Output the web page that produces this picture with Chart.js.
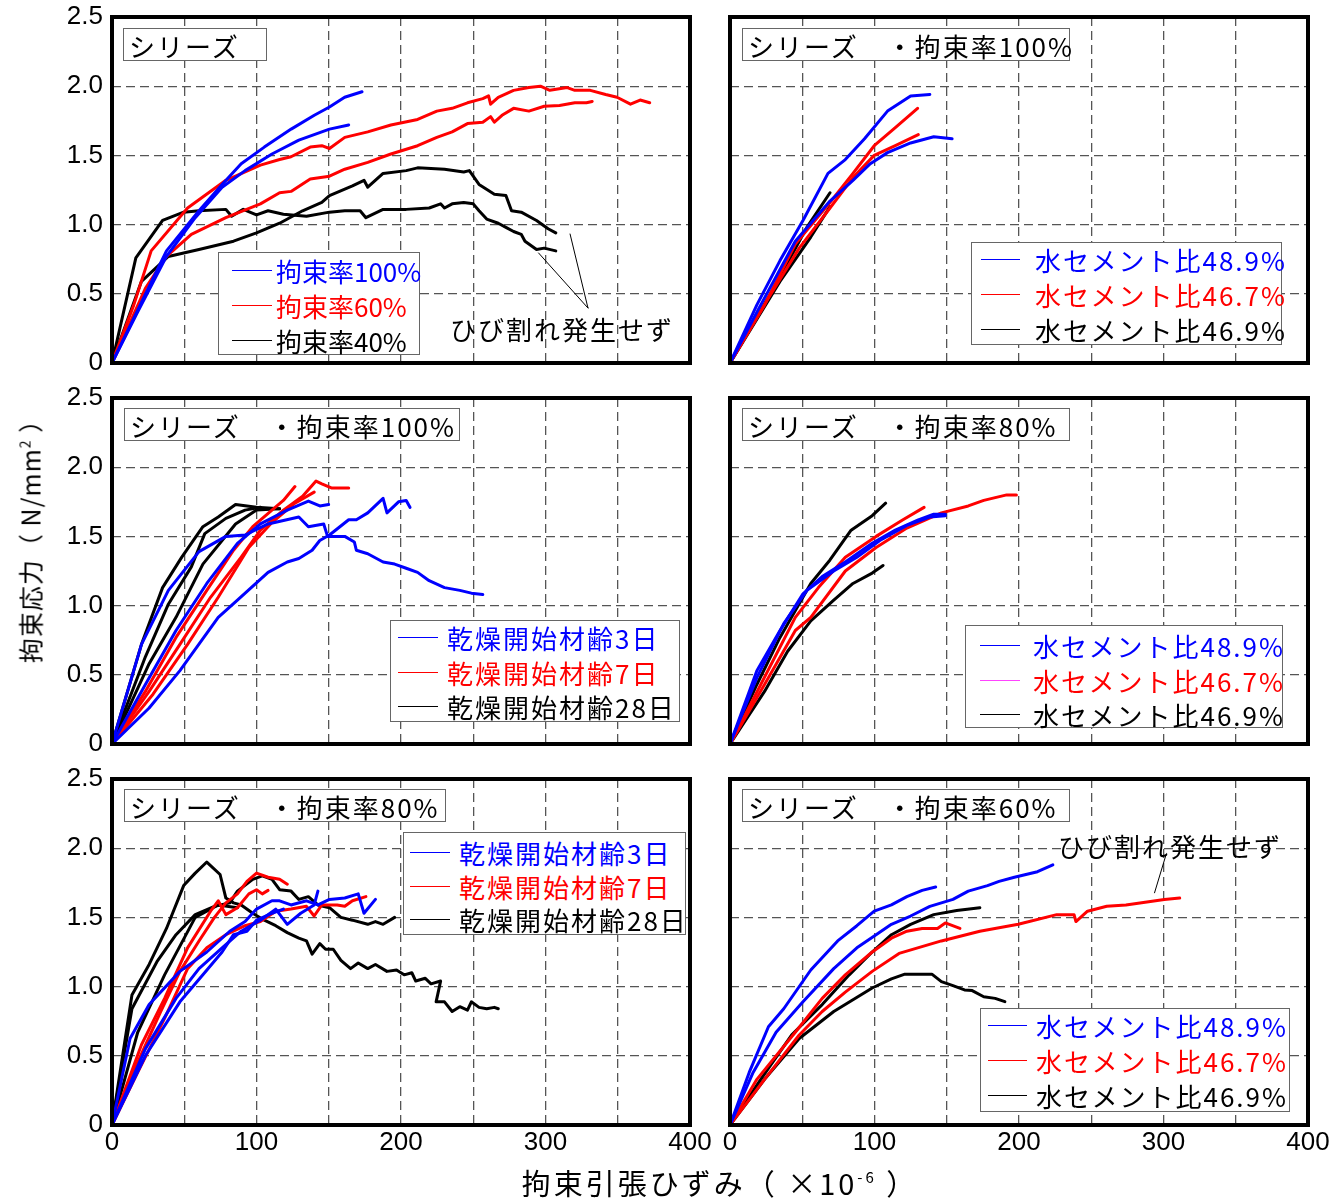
<!DOCTYPE html>
<html lang="ja">
<head>
<meta charset="UTF-8">
<title>拘束応力と拘束引張ひずみ</title>
<style>
    body {
        margin: 0;
        width: 1334px;
        height: 1199px;
        position: relative;
        overflow: hidden;
        background: #fff;
        font-family: "Noto Sans CJK JP", sans-serif;
    }
    canvas { position: absolute; }
    .box { position: absolute; background: #fff; border: 1.5px solid #666; box-sizing: border-box; }
    .txt { position: absolute; white-space: nowrap; line-height: 1; transform: translateY(-50%); font-size: 26px; }
    .swatch { position: absolute; height: 0; border-top: 1.5px solid; }
</style>
</head>
<body>

<script src="https://cdnjs.cloudflare.com/ajax/libs/Chart.js/4.4.1/chart.umd.min.js"></script>
<script>
    const BLUE = '#0000ff', RED = '#ff0000', BLACK = '#000000';

    // tick labels
    const xTickLabels = ['0', '100', '200', '300', '400'];
    const yTickLabels = ['0', '0.5', '1.0', '1.5', '2.0', '2.5'];

    // legend / title texts
    const legendRate = ['拘束率100%', '拘束率60%', '拘束率40%'];
    const legendWC = ['水セメント比48.9%', '水セメント比46.7%', '水セメント比46.9%'];
    const legendAge = ['乾燥開始材齢3日', '乾燥開始材齢7日', '乾燥開始材齢28日'];
    const panelTitles = ['シリーズ', 'シリーズ　・拘束率100%', 'シリーズ　・拘束率100%',
                         'シリーズ　・拘束率80%', 'シリーズ　・拘束率80%', 'シリーズ　・拘束率60%'];
    const noteText = 'ひび割れ発生せず';

    // top left : strain (x10^-6), stress (N/mm2)
    const tlBlue1 = [[0,0],[37.7,0.81],[60.2,1.10],[76.2,1.29],[89.4,1.44],[105.4,1.56],[124,1.69],[140,1.79],[150.5,1.85],[161,1.92],[173,1.96]];
    const tlBlue2 = [[0,0],[17.8,0.37],[37.7,0.77],[57.6,1.05],[76.2,1.27],[92.1,1.39],[110.7,1.51],[129.3,1.61],[150.5,1.69],[163.8,1.72]];
    const tlRed1 = [[0,0],[15.1,0.42],[27.1,0.81],[52.3,1.12],[78.8,1.32],[102.7,1.43],[116,1.47],[123.9,1.49],[137.2,1.56],[145.2,1.57],[150.5,1.55],[161.1,1.63],[177,1.67],[193,1.72],[211.5,1.76],[224.8,1.82],[235.4,1.84],[246,1.88],[256.6,1.91],[260.6,1.93],[262,1.87],[267.3,1.92],[277.9,1.97],[288.5,1.99],[296.5,2.0],[303,1.97],[315,1.99],[320.3,1.97],[331,1.97],[341.6,1.94],[349.5,1.92],[358.8,1.87],[365.5,1.90],[372.1,1.88]];
    const tlRed2 = [[0,0],[23.1,0.54],[37.7,0.77],[54.9,0.93],[78.8,1.05],[102.7,1.15],[116,1.23],[123.9,1.24],[137.2,1.33],[150.5,1.35],[161.1,1.40],[177,1.45],[193,1.51],[211.5,1.57],[224.8,1.63],[235.4,1.67],[246,1.73],[256.6,1.74],[262,1.78],[264.6,1.74],[269.9,1.79],[277.9,1.84],[288.5,1.82],[299.1,1.855],[309.7,1.86],[320.3,1.88],[328.3,1.88],[332.3,1.89]];
    const tlBlack1 = [[0,0],[16.5,0.76],[35,1.03],[49.6,1.09],[60.2,1.10],[78.8,1.11],[82.8,1.06],[90.8,1.11],[100,1.07],[108,1.10],[118.6,1.075],[134.6,1.06],[150.5,1.09],[161.1,1.10],[171.7,1.10],[175.7,1.05],[187.6,1.11],[203.6,1.11],[219.5,1.12],[227.4,1.15],[230.1,1.12],[235.4,1.15],[243.4,1.16],[250,1.15],[254,1.10],[259.3,1.04],[267.3,1.01],[272.6,0.98],[277.9,0.95],[283.2,0.93],[285.8,0.88],[293.8,0.82],[299.1,0.83],[307.1,0.81]];
    const tlBlack2 = [[0,0],[20.4,0.59],[39,0.77],[60.2,0.82],[84.1,0.88],[100,0.94],[116,1.01],[131.9,1.10],[145.2,1.16],[150.5,1.21],[166.4,1.28],[174.4,1.32],[177,1.27],[187.6,1.37],[203.6,1.39],[211.5,1.41],[230.1,1.40],[243.4,1.38],[247.3,1.39],[254,1.29],[264.6,1.22],[272.6,1.21],[276.5,1.10],[283.2,1.09],[293.8,1.03],[301.8,0.97],[307.1,0.94]];
    const tlNote1 = [[329.4,0.397],[295.2,0.795]];
    const tlNote2 = [[329.4,0.397],[317,0.932]];

    // top right
    const trBlue1 = [[0,0],[18.6,0.42],[34.6,0.74],[50.5,1.03],[67.8,1.37],[79.8,1.47],[93.1,1.62],[109,1.82],[125,1.93],[138.3,1.94]];
    const trBlue2 = [[0,0],[21.3,0.42],[45.2,0.88],[69.2,1.17],[85.1,1.32],[97.1,1.44],[109,1.52],[125,1.59],[141,1.635],[153.7,1.62]];
    const trRed1 = [[0,0],[23.9,0.42],[45.2,0.86],[69.2,1.16],[85.1,1.37],[99.8,1.57],[114.4,1.70],[129.8,1.84]];
    const trRed2 = [[0,0],[26.6,0.47],[47.9,0.83],[69.2,1.12],[85.1,1.34],[99.8,1.50],[114.4,1.57],[130.3,1.65]];
    const trBlack1 = [[0,0],[31.9,0.57],[53.2,0.98],[69.2,1.23]];
    const trBlack2 = [[0,0],[34.6,0.59],[55.9,0.91],[69.2,1.13]];

    // middle left
    const mlBlue1 = [[0,0],[20.4,0.72],[39,1.11],[60.2,1.39],[78.8,1.50],[92.1,1.51],[108,1.59],[129.3,1.64],[135.9,1.57],[146.5,1.59],[149.2,1.50],[161.1,1.50],[167.7,1.46],[169.1,1.40],[177,1.375],[187.6,1.315],[195.6,1.30],[203.6,1.27],[211.5,1.24],[219.5,1.18],[230.1,1.13],[240.7,1.11],[248.7,1.09],[256.6,1.08]];
    const mlBlue2 = [[0,0],[23.1,0.43],[44.3,0.82],[65.6,1.16],[86.8,1.45],[102.7,1.59],[121.3,1.69],[135.9,1.755],[143.8,1.72],[149.9,1.73]];
    const mlBlue3 = [[0,0],[25.7,0.26],[47,0.53],[73.5,0.915],[86.8,1.04],[108,1.24],[121.3,1.315],[129.3,1.34],[138.5,1.40],[143.8,1.47],[150.5,1.51],[163.8,1.62],[169.1,1.62],[177,1.67],[187.6,1.775],[190.3,1.67],[198.3,1.75],[203.6,1.76],[206.2,1.71]];
    const mlRed1 = [[0,0],[23.1,0.38],[44.3,0.77],[65.6,1.11],[84.1,1.40],[97.4,1.57],[110.7,1.69],[118.6,1.76],[126.6,1.86]];
    const mlRed2 = [[0,0],[25.7,0.38],[47,0.72],[68.2,1.06],[89.4,1.35],[102.7,1.545],[118.6,1.69],[131.9,1.79],[141.2,1.90],[145.2,1.88],[151.8,1.85],[163.8,1.85]];
    const mlRed3 = [[0,0],[28.4,0.36],[52.3,0.72],[73.5,1.06],[94.7,1.42],[110.7,1.60],[126.6,1.74],[139.9,1.82]];
    const mlBlack1 = [[0,0],[20.4,0.72],[35,1.13],[48.3,1.35],[62.9,1.57],[73.5,1.64],[85.5,1.73],[100,1.71],[116,1.70]];
    const mlBlack2 = [[0,0],[25.7,0.58],[44.3,0.915],[62.9,1.30],[85.5,1.59],[100,1.69],[116,1.70]];
    const mlBlack3 = [[0,0],[23.1,0.63],[39,1.01],[54.9,1.28],[64.2,1.52],[78.8,1.63],[92.1,1.69],[102.7,1.71]];

    // middle right
    const mrBlue1 = [[0,0],[18.6,0.53],[34.6,0.82],[50.5,1.085],[63.8,1.21],[79.8,1.315],[98.4,1.45],[114.4,1.545],[130.3,1.62],[141,1.66],[149,1.66]];
    const mrBlue2 = [[0,0],[18.6,0.48],[37.2,0.87],[53.2,1.11],[71.8,1.25],[87.8,1.35],[103.7,1.47],[122.4,1.58],[138.3,1.64],[149,1.65]];
    const mrRed1 = [[0,0],[21.3,0.43],[45.2,0.915],[61.2,1.13],[79.8,1.35],[101.1,1.50],[119.7,1.62],[134.3,1.71]];
    const mrRed2 = [[0,0],[23.9,0.43],[45.2,0.82],[55.9,0.915],[79.8,1.25],[101.1,1.42],[122.4,1.56],[146.3,1.67],[164.9,1.72],[175.6,1.76],[191.5,1.80],[198.2,1.80]];
    const mrBlack1 = [[0,0],[18.6,0.43],[34.6,0.77],[55.9,1.16],[69.2,1.33],[83.8,1.545],[98.4,1.65],[107.7,1.74]];
    const mrBlack2 = [[0,0],[23.9,0.38],[39.9,0.67],[55.9,0.89],[71.8,1.04],[85.1,1.16],[98.4,1.235],[105.9,1.29]];

    // bottom left
    const blBlue1 = [[0,0],[12.5,0.625],[25.7,0.87],[47,1.11],[65.6,1.25],[81.5,1.40],[92.1,1.47],[100,1.56],[110.7,1.62],[116,1.62],[123.9,1.59],[134.6,1.62],[142.5,1.59],[150.5,1.63],[161.1,1.64],[170.4,1.67],[174.4,1.53],[182.3,1.63]];
    const blBlue2 = [[0,0],[23.1,0.55],[44.3,0.915],[60.2,1.13],[76.2,1.28],[89.4,1.40],[102.7,1.48],[113.3,1.56],[121.3,1.45],[130.6,1.53],[139.9,1.59],[142.5,1.69]];
    const blBlue3 = [[0,0],[23.1,0.50],[47,0.89],[62.9,1.085],[76.2,1.25],[84.1,1.375],[93.4,1.40],[100,1.48],[110.7,1.53],[118.6,1.56]];
    const blRed1 = [[0,0],[17.8,0.455],[33.7,0.82],[47,1.11],[60.2,1.33],[70.9,1.50],[78.8,1.605],[86.8,1.67],[93.4,1.76],[100,1.82],[108,1.79],[116,1.775],[121.3,1.74]];
    const blRed2 = [[0,0],[20.4,0.58],[36.4,0.915],[52.3,1.28],[68.2,1.545],[73.5,1.62],[78.8,1.52],[86.8,1.57],[94.7,1.67],[100,1.70],[104,1.67],[108,1.695]];
    const blRed3 = [[0,0],[17.8,0.38],[36.4,0.77],[52.3,1.13],[65.6,1.28],[78.8,1.375],[92.1,1.44],[102.7,1.47],[113.3,1.545],[123.9,1.56],[134.6,1.58],[139.9,1.51],[145.2,1.59],[155.8,1.59],[161.1,1.58],[166.4,1.62],[175.7,1.65]];
    const blBlack1 = [[0,0],[13.8,0.94],[25.7,1.16],[37.7,1.42],[49.6,1.73],[57.6,1.82],[65.6,1.90],[74.8,1.81],[78.8,1.64],[84.1,1.605],[89.4,1.59],[97.4,1.53],[105.4,1.48],[113.3,1.44],[121.3,1.39],[129.3,1.35],[134.6,1.33],[138.5,1.235],[143.8,1.31],[147.8,1.27],[153.1,1.27],[158.4,1.19],[165.1,1.13],[170.4,1.17],[177,1.13],[182.3,1.16],[190.3,1.11],[196.9,1.12],[202.2,1.085],[207.5,1.10],[210.2,1.04],[216.8,1.06],[220.8,1.02],[227.4,1.04],[224.3,0.89],[230.1,0.89],[235.4,0.82],[240.7,0.855],[246,0.83],[248.7,0.89],[254,0.85],[259.3,0.84],[264.6,0.85],[267.3,0.84]];
    const blBlack2 = [[0,0],[13.8,0.84],[31.1,1.18],[44.3,1.375],[57.6,1.52],[70.9,1.58],[81.5,1.605],[86.8,1.69],[97.4,1.775],[104,1.80],[110.7,1.775],[116,1.70],[123.9,1.69],[129.3,1.63],[135.9,1.65],[142.5,1.59],[150.5,1.57],[158.4,1.50],[166.4,1.48],[177,1.45],[182.3,1.47],[187.6,1.45],[195.6,1.50]];
    const blBlack3 = [[0,0],[17.8,0.67],[36.4,1.085],[57.6,1.50],[73.5,1.59],[86.8,1.57]];

    // bottom right
    const brBlue1 = [[0,0],[13.3,0.38],[26.6,0.71],[37.2,0.84],[55.9,1.12],[74.5,1.33],[87.8,1.44],[99.8,1.545],[111.7,1.59],[122.4,1.65],[133,1.695],[142.3,1.72]];
    const brBlue2 = [[0,0],[16,0.38],[31.9,0.67],[50.5,0.89],[71.8,1.13],[87.8,1.28],[101.1,1.375],[111.7,1.45],[125,1.51],[138.3,1.58],[154.3,1.63],[164.9,1.69],[178.2,1.73],[186.2,1.76],[196.8,1.79],[204.8,1.81],[212.8,1.83],[223.4,1.88]];
    const brRed1 = [[0,0],[18.6,0.33],[45.2,0.67],[63.8,0.915],[79.8,1.085],[98.4,1.25],[111.7,1.35],[122.4,1.40],[133,1.42],[143.6,1.42],[149,1.46],[159.1,1.42]];
    const brRed2 = [[0,0],[23.9,0.33],[47.9,0.65],[63.8,0.82],[79.8,0.96],[98.4,1.11],[117,1.24],[146.3,1.33],[172.9,1.40],[199.5,1.45],[226.1,1.52],[238.1,1.52],[239.4,1.47],[247.4,1.545],[260.7,1.58],[274,1.59],[287.3,1.61],[300.6,1.63],[311.2,1.64]];
    const brBlack1 = [[0,0],[21.3,0.33],[42.6,0.65],[63.8,0.87],[82.5,1.085],[98.4,1.25],[111.7,1.375],[125,1.45],[141,1.52],[156.9,1.55],[172.9,1.57]];
    const brBlack2 = [[0,0],[23.9,0.33],[47.9,0.625],[71.8,0.82],[98.4,0.99],[111.7,1.056],[121,1.09],[139.7,1.09],[146.3,1.036],[154.3,1.007],[162.3,0.976],[167.6,0.971],[175.6,0.927],[183.5,0.915],[190.2,0.891]];
    const brNote = [[301.7,1.951],[293.8,1.678]];

    function line(data, color, width) {
        return {
            data: data.map(p => ({x: p[0], y: p[1]})),
            showLine: true,
            borderColor: color,
            backgroundColor: color,
            borderWidth: width || 3,
            pointRadius: 0,
            tension: 0,
            borderJoinStyle: 'round',
            borderCapStyle: 'round'
        };
    }

    const framePlugin = {
        id: 'frame',
        afterDatasetsDraw(chart) {
            const a = chart.chartArea, c = chart.ctx;
            c.save();
            c.lineWidth = 4;
            c.strokeStyle = '#000';
            c.strokeRect(a.left, a.top, a.right - a.left, a.bottom - a.top);
            c.restore();
        }
    };

    const tickFont = {family: '"Liberation Sans", Arial, sans-serif', size: 26, lineHeight: 1};

    // left column canvases: 0..716, right column: 712..1334
    const panels = [
        {left: 0, top: 0, w: 716, h: 380, pad: {left: 0, right: 26, top: 17, bottom: 17}, yw: 112, xh: 0, showY: true, showX: false,
         series: [line(tlNote1, BLACK, 1), line(tlNote2, BLACK, 1),
                  line(tlBlue1, BLUE), line(tlBlue2, BLUE), line(tlRed1, RED), line(tlRed2, RED), line(tlBlack1, BLACK), line(tlBlack2, BLACK)]},
        {left: 712, top: 0, w: 622, h: 380, pad: {left: 18, right: 26, top: 17, bottom: 17}, yw: 0, xh: 0, showY: false, showX: false,
         series: [line(trBlue1, BLUE), line(trBlue2, BLUE), line(trRed1, RED), line(trRed2, RED), line(trBlack1, BLACK), line(trBlack2, BLACK)]},
        {left: 0, top: 380, w: 716, h: 380, pad: {left: 0, right: 26, top: 18, bottom: 16}, yw: 112, xh: 0, showY: true, showX: false,
         series: [line(mlBlue1, BLUE), line(mlBlue2, BLUE), line(mlBlue3, BLUE), line(mlRed1, RED), line(mlRed2, RED), line(mlRed3, RED),
                  line(mlBlack1, BLACK), line(mlBlack2, BLACK), line(mlBlack3, BLACK)]},
        {left: 712, top: 380, w: 622, h: 380, pad: {left: 18, right: 26, top: 18, bottom: 16}, yw: 0, xh: 0, showY: false, showX: false,
         series: [line(mrBlue1, BLUE), line(mrBlue2, BLUE), line(mrRed1, RED), line(mrRed2, RED), line(mrBlack1, BLACK), line(mrBlack2, BLACK)]},
        {left: 0, top: 760, w: 716, h: 420, pad: {left: 0, right: 26, top: 19, bottom: 15}, yw: 112, xh: 40, showY: true, showX: true,
         series: [line(blBlue1, BLUE), line(blBlue2, BLUE), line(blBlue3, BLUE), line(blRed1, RED), line(blRed2, RED), line(blRed3, RED),
                  line(blBlack1, BLACK), line(blBlack2, BLACK), line(blBlack3, BLACK)]},
        {left: 712, top: 760, w: 622, h: 420, pad: {left: 18, right: 26, top: 19, bottom: 15}, yw: 0, xh: 40, showY: false, showX: true,
         series: [line(brNote, BLACK, 1), line(brBlue1, BLUE), line(brBlue2, BLUE), line(brRed1, RED), line(brRed2, RED), line(brBlack1, BLACK), line(brBlack2, BLACK)]}
    ];

    for (const p of panels) {
        const cv = document.createElement('canvas');
        cv.width = p.w;
        cv.height = p.h;
        cv.style.left = p.left + 'px';
        cv.style.top = p.top + 'px';
        document.body.appendChild(cv);

        new Chart(cv, {
            type: 'scatter',
            data: {datasets: p.series},
            plugins: [framePlugin],
            options: {
                responsive: false,
                animation: false,
                devicePixelRatio: 1,
                layout: {padding: p.pad},
                plugins: {legend: {display: false}, tooltip: {enabled: false}},
                scales: {
                    x: {
                        type: 'linear', min: 0, max: 400,
                        // fixed sizes so every plot area lands on the same pixels
                        afterFit: s => { s.height = p.xh; s.paddingLeft = 0; s.paddingRight = 0; },
                        ticks: {
                            display: p.showX, stepSize: 50, autoSkip: false, maxRotation: 0, padding: 5,
                            color: '#000', font: tickFont,
                            callback: v => (v % 100 === 0 ? xTickLabels[v / 100] : '')
                        },
                        grid: {color: '#555', lineWidth: 1.3, drawTicks: false},
                        border: {display: false, dash: [9, 5]}
                    },
                    y: {
                        type: 'linear', min: 0, max: 2.5,
                        afterFit: s => { s.width = p.yw; s.paddingTop = 0; s.paddingBottom = 0; },
                        ticks: {
                            display: p.showY, stepSize: 0.5, padding: 9,
                            color: '#000', font: tickFont,
                            callback: v => yTickLabels[Math.round(v / 0.5)]
                        },
                        grid: {color: '#555', lineWidth: 1.3, drawTicks: false},
                        border: {display: false, dash: [9, 5]}
                    }
                }
            }
        });
    }

    // ---- overlays: title boxes, legends, notes, axis titles ----
    function addBox(x, y, w, h) {
        const d = document.createElement('div');
        d.className = 'box';
        Object.assign(d.style, {left: x + 'px', top: y + 'px', width: w + 'px', height: h + 'px'});
        document.body.appendChild(d);
    }

    function addText(x, y, str, color, spacing) {
        const d = document.createElement('div');
        d.className = 'txt';
        d.textContent = str;
        Object.assign(d.style, {left: x + 'px', top: y + 'px', color: color || '#000', letterSpacing: (spacing || 0) + 'px'});
        document.body.appendChild(d);
        return d;
    }

    function addSwatch(x1, x2, y, color) {
        const d = document.createElement('div');
        d.className = 'swatch';
        Object.assign(d.style, {left: x1 + 'px', top: y + 'px', width: (x2 - x1) + 'px', borderTopColor: color});
        document.body.appendChild(d);
    }

    const titleBoxes = [[123, 28, 144, 33], [742, 28, 328, 33], [124, 408, 336, 33], [742, 408, 328, 33], [124, 789, 322, 33], [742, 789, 328, 33]];
    titleBoxes.forEach((b, i) => {
        addBox(b[0], b[1], b[2], b[3]);
        addText(b[0] + 6, b[1] + b[3] / 2 + 1, panelTitles[i], '#000', 2);
    });

    const legends = [
        {box: [218, 252, 202, 103], sx: [232, 272], tx: 276, rows: [270, 305, 340], labels: legendRate, sw: [BLUE, RED, BLACK], sp: 0},
        {box: [971, 242, 311, 103], sx: [981, 1020], tx: 1035, rows: [259, 294, 329], labels: legendWC, sw: [BLUE, RED, BLACK], sp: 2},
        {box: [390, 620, 290, 102], sx: [398, 438], tx: 447, rows: [637, 672, 706], labels: legendAge, sw: [BLUE, RED, BLACK], sp: 2},
        {box: [965, 625, 318, 103], sx: [980, 1020], tx: 1033, rows: [645, 680, 714], labels: legendWC, sw: [BLUE, '#ff44ff', BLACK], sp: 2},
        {box: [403, 832, 283, 103], sx: [410, 450], tx: 459, rows: [852, 886, 919], labels: legendAge, sw: [BLUE, RED, BLACK], sp: 2},
        {box: [980, 1008, 310, 104], sx: [988, 1027], tx: 1036, rows: [1025, 1060, 1095], labels: legendWC, sw: [BLUE, RED, BLACK], sp: 2}
    ];
    const textColors = [BLUE, RED, BLACK];
    for (const lg of legends) {
        addBox(lg.box[0], lg.box[1], lg.box[2], lg.box[3]);
        lg.rows.forEach((ry, i) => {
            addSwatch(lg.sx[0], lg.sx[1], ry, lg.sw[i]);
            addText(lg.tx, ry + 1, lg.labels[i], textColors[i], lg.sp);
        });
    }

    addText(450, 329, noteText, '#000', 2);
    addText(1058, 846, noteText, '#000', 2);

    // axis titles
    const xt = addText(720, 1182, '', '#000', 3);
    xt.innerHTML = '拘束引張ひずみ（ ×10<sup style="font-size:15px;vertical-align:12px">-6</sup> ）';
    Object.assign(xt.style, {fontSize: '29px', transform: 'translate(-50%, -50%)'});

    const yt = addText(30, 535, '', '#000', 1);
    yt.innerHTML = '拘束応力（ N/mm<sup style="font-size:14px;vertical-align:10px">2</sup> ）';
    Object.assign(yt.style, {fontSize: '25px', transform: 'translate(-50%, -50%) rotate(-90deg)'});
</script>
</body>
</html>
